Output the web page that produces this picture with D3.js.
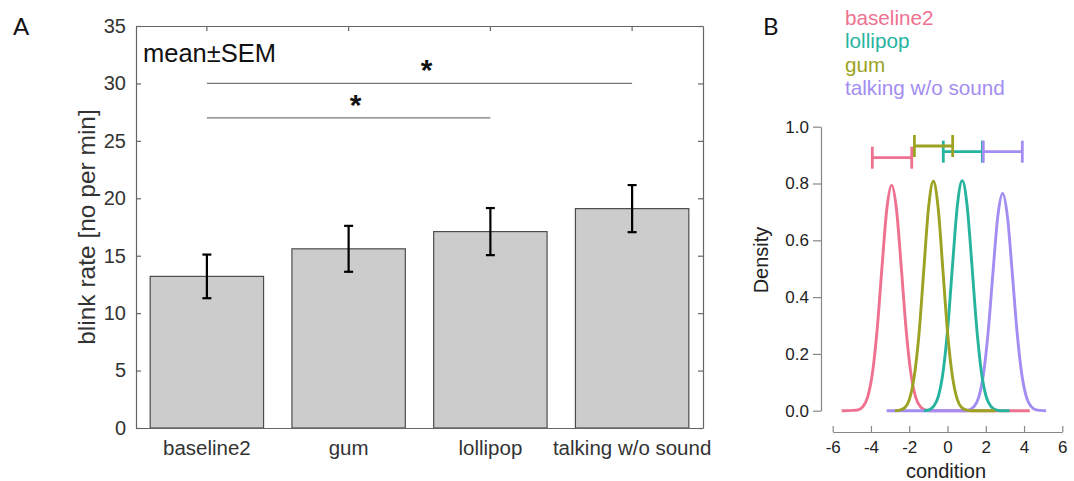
<!DOCTYPE html>
<html>
<head>
<meta charset="utf-8">
<script src="https://cdn.jsdelivr.net/npm/d3@7"></script>
<style>
  body { margin: 0; background: #fff; }
  svg { display: block; }
  .axA text { font-family: "Liberation Sans", Arial, sans-serif; font-size: 20px; fill: #333; }
  .axX text { font-size: 20.5px; }
  .axB text { font-family: "Liberation Sans", Arial, sans-serif; font-size: 17px; fill: #222; }
</style>
</head>
<body>
<div id="chart"></div>
<script>

// ---- panel A data: blink rate, mean +- SEM ----
var conditions = ["baseline2", "gum", "lollipop", "talking w/o sound"];
var blinkMean = [13.2, 15.6, 17.1, 19.1];
var blinkSem = [1.9, 2.0, 2.05, 2.05];
var yTicksA = [0, 5, 10, 15, 20, 25, 30, 35];
// significance brackets: from, to, level
var sigFrom = ["baseline2", "baseline2"];
var sigTo = ["talking w/o sound", "lollipop"];
var sigLevel = [30, 27];

// ---- panel B data: densities per condition ----
var groupNames = ["baseline2", "lollipop", "gum", "talking w/o sound"];
var groupColors = ["#ee7190", "#27b49f", "#9ca222", "#a38df2"];

var dens_baseline2 = [[-5.53,0],[-4.92,0.001],[-4.67,0.003],[-4.42,0.014],[-4.17,0.049],[-3.92,0.134],[-3.67,0.291],
  [-3.42,0.509],[-3.17,0.711],[-2.92,0.794],[-2.67,0.711],[-2.42,0.509],[-2.17,0.291],[-1.92,0.134],
  [-1.67,0.049],[-1.42,0.014],[-1.17,0.003],[-0.92,0],[4.3,0]];
var dens_lollipop = [[-1.23,0],[-0.98,0.003],[-0.73,0.015],[-0.48,0.050],[-0.23,0.137],[0.02,0.297],[0.27,0.519],
  [0.52,0.725],[0.77,0.81],[1.02,0.725],[1.27,0.519],[1.52,0.297],[1.77,0.137],[2.02,0.050],
  [2.27,0.015],[2.52,0.003],[2.77,0],[3.24,0]];
var dens_gum = [[-2.74,0],[-2.49,0.002],[-2.24,0.01],[-1.99,0.04],[-1.74,0.12],[-1.49,0.27],[-1.24,0.495],
  [-0.99,0.715],[-0.74,0.808],[-0.49,0.715],[-0.24,0.495],[0.01,0.27],[0.26,0.12],[0.51,0.04],
  [0.76,0.01],[1.01,0.002],[1.26,0],[2.48,0]];
var dens_talking = [[-3.18,0],[0.88,0],[1.13,0.003],[1.38,0.014],[1.63,0.047],[1.88,0.129],[2.13,0.281],
  [2.38,0.490],[2.63,0.685],[2.88,0.765],[3.13,0.685],[3.38,0.490],[3.63,0.281],[3.88,0.129],
  [4.13,0.047],[4.38,0.014],[4.63,0.003],[4.88,0.001],[5.15,0]];

// interval bars on top (same order as groupNames)
var ciLow = [-3.93, -0.22, -1.73, 1.87];
var ciHigh = [-1.87, 1.82, 0.27, 3.91];
var ciLevel = [0.891, 0.912, 0.932, 0.912];

var xTicksB = [-6, -4, -2, 0, 2, 4, 6];
var yTicksB = [0, 0.2, 0.4, 0.6, 0.8, 1.0];


var svg = d3.select("#chart").append("svg")
  .attr("width", 1074)
  .attr("height", 481);

// ================= panel A =================
var gA = svg.append("g");

var xA = d3.scaleBand().domain(conditions).range([136, 703]).paddingInner(0.2).paddingOuter(0.1);
var yA = d3.scaleLinear().domain([0, 35]).range([428, 26]);

// bars
gA.selectAll(".bar")
  .data(conditions)
  .enter()
  .append("rect")
    .attr("class", "bar")
    .attr("x", function(d){ return xA(d); })
    .attr("y", function(d, i){ return yA(blinkMean[i]); })
    .attr("width", xA.bandwidth())
    .attr("height", function(d, i){ return yA(0) - yA(blinkMean[i]); })
    .style("fill", "#cccccc")
    .style("stroke", "#4d4d4d")
    .style("stroke-width", 1.2);

// error bars
var cx = function(d){ return xA(d) + xA.bandwidth()/2; };
var errG = gA.selectAll(".err")
  .data(conditions)
  .enter()
  .append("g")
    .attr("class", "err")
    .style("stroke", "#000")
    .style("stroke-width", 2.2);
errG.append("line")
  .attr("x1", cx).attr("x2", cx)
  .attr("y1", function(d, i){ return yA(blinkMean[i] - blinkSem[i]); })
  .attr("y2", function(d, i){ return yA(blinkMean[i] + blinkSem[i]); });
errG.append("line")
  .attr("x1", function(d){ return cx(d) - 4.5; }).attr("x2", function(d){ return cx(d) + 4.5; })
  .attr("y1", function(d, i){ return yA(blinkMean[i] + blinkSem[i]); })
  .attr("y2", function(d, i){ return yA(blinkMean[i] + blinkSem[i]); });
errG.append("line")
  .attr("x1", function(d){ return cx(d) - 4.5; }).attr("x2", function(d){ return cx(d) + 4.5; })
  .attr("y1", function(d, i){ return yA(blinkMean[i] - blinkSem[i]); })
  .attr("y2", function(d, i){ return yA(blinkMean[i] - blinkSem[i]); });

// axes (box with inward ticks, matlab style)
gA.append("g")
  .attr("class", "axA")
  .attr("transform", "translate(136,0)")
  .call(d3.axisLeft(yA).tickValues(yTicksA).tickSizeInner(-5).tickSizeOuter(0).tickPadding(10));
gA.append("g")
  .attr("class", "axA")
  .attr("transform", "translate(703,0)")
  .call(d3.axisRight(yA).tickValues(yTicksA).tickSizeInner(-5).tickSizeOuter(0).tickFormat(""));
gA.append("g")
  .attr("class", "axA")
  .attr("transform", "translate(0,26)")
  .call(d3.axisTop(xA).tickSizeInner(-5).tickSizeOuter(0).tickFormat(""));
gA.append("g")
  .attr("class", "axA axX")
  .attr("transform", "translate(0,428)")
  .call(d3.axisBottom(xA).tickSize(0).tickPadding(12.5));
gA.selectAll(".axA path, .axA line").style("stroke", "#666").style("stroke-width", 1.2);

// y label
gA.append("text")
  .attr("transform", "translate(95," + ((yA(0) + yA(35))/2) + ") rotate(-90)")
  .style("text-anchor", "middle")
  .style("font-family", "Liberation Sans, Arial, sans-serif")
  .style("font-size", "24.5px")
  .style("fill", "#333")
  .text("blink rate [no per min]");

gA.append("text")
  .attr("x", 143).attr("y", 61.5)
  .style("font-family", "Liberation Sans, Arial, sans-serif")
  .style("font-size", "25.5px")
  .style("fill", "#111")
  .text("mean\u00b1SEM");

// significance lines
sigLevel.forEach(function(lev, i){
  var x1 = cx(sigFrom[i]), x2 = cx(sigTo[i]);
  gA.append("line")
    .attr("x1", x1).attr("x2", x2)
    .attr("y1", yA(lev)).attr("y2", yA(lev))
    .style("stroke", "#777")
    .style("stroke-width", 1.3);
  gA.append("text")
    .attr("x", (x1 + x2)/2 + 7)
    .attr("y", yA(lev) - 3)
    .style("text-anchor", "middle")
    .style("font-family", "Liberation Sans, Arial, sans-serif")
    .style("font-weight", "bold")
    .style("font-size", "30px")
    .style("fill", "#111")
    .text("*");
});

svg.append("text")
  .attr("x", 13).attr("y", 35)
  .style("font-family", "Lato, Open Sans, sans-serif")
  .style("font-size", "24px")
  .style("fill", "#111")
  .text("A");

// ================= panel B =================
var gB = svg.append("g");

var xB = d3.scaleLinear().domain([-6, 6]).range([832.7, 1062.3]);
var yB = d3.scaleLinear().domain([0, 1]).range([410.7, 126.7]);

gB.append("g")
  .attr("class", "axB")
  .attr("transform", "translate(821,0)")
  .call(d3.axisLeft(yB).tickValues(yTicksB).tickFormat(d3.format(".1f")).tickSizeInner(8).tickSizeOuter(0).tickPadding(4));
gB.append("g")
  .attr("class", "axB")
  .attr("transform", "translate(0,432)")
  .call(d3.axisBottom(xB).tickValues(xTicksB).tickFormat(function(d){ return d < 0 ? "-" + Math.abs(d) : d; })
    .tickSizeInner(-6).tickSizeOuter(0).tickPadding(9));
gB.selectAll(".axB path, .axB line").style("stroke", "#888").style("stroke-width", 1.2);

gB.append("text")
  .attr("x", 946).attr("y", 478)
  .style("text-anchor", "middle")
  .style("font-family", "Liberation Sans, Arial, sans-serif")
  .style("font-size", "20px")
  .style("fill", "#222")
  .text("condition");

gB.append("text")
  .attr("transform", "translate(768,260) rotate(-90)")
  .style("text-anchor", "middle")
  .style("font-family", "Liberation Sans, Arial, sans-serif")
  .style("font-size", "20px")
  .style("fill", "#222")
  .text("Density");

// density curves, drawn pink, purple, teal, olive
var densLine = d3.line()
  .x(function(d){ return xB(d[0]); })
  .y(function(d){ return yB(d[1]); })
  .curve(d3.curveMonotoneX);

var curves = [
  {name: "baseline2", pts: dens_baseline2, col: groupColors[0]},
  {name: "talking w/o sound", pts: dens_talking, col: groupColors[3]},
  {name: "lollipop", pts: dens_lollipop, col: groupColors[1]},
  {name: "gum", pts: dens_gum, col: groupColors[2]}
];
gB.selectAll(".dens")
  .data(curves)
  .enter()
  .append("path")
    .attr("class", "dens")
    .attr("d", function(d){ return densLine(d.pts); })
    .style("fill", "none")
    .style("stroke", function(d){ return d.col; })
    .style("stroke-width", 2.9);

// interval bars
var ciOrder = [0, 1, 3, 2];
ciOrder.forEach(function(i){
  var g = gB.append("g").style("stroke", groupColors[i]).style("stroke-width", 2.8);
  var yy = yB(ciLevel[i]);
  g.append("line").attr("x1", xB(ciLow[i])).attr("x2", xB(ciHigh[i])).attr("y1", yy).attr("y2", yy);
  g.append("line").attr("x1", xB(ciLow[i])).attr("x2", xB(ciLow[i])).attr("y1", yy - 11).attr("y2", yy + 11);
  g.append("line").attr("x1", xB(ciHigh[i])).attr("x2", xB(ciHigh[i])).attr("y1", yy - 11).attr("y2", yy + 11);
});

// legend
gB.selectAll(".leg")
  .data(groupNames)
  .enter()
  .append("text")
    .attr("class", "leg")
    .attr("x", 845)
    .attr("y", function(d, i){ return 25 + i*23.4; })
    .style("font-family", "Liberation Sans, Arial, sans-serif")
    .style("font-size", "20.7px")
    .style("fill", function(d, i){ return groupColors[i]; })
    .text(function(d){ return d; });

svg.append("text")
  .attr("x", 763).attr("y", 35)
  .style("font-family", "Lato, Open Sans, sans-serif")
  .style("font-size", "24px")
  .style("fill", "#111")
  .text("B");

</script>
</body>
</html>
